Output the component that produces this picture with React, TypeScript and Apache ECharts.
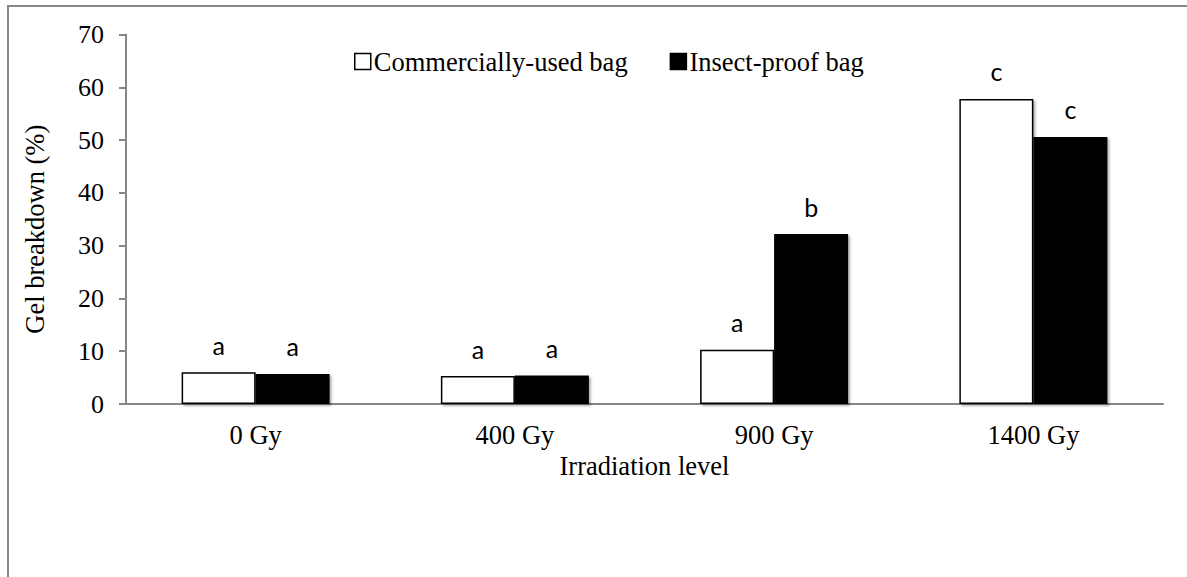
import React, { useEffect, useRef } from "react";
import * as echarts from "echarts";

const categories = ["0 Gy", "400 Gy", "900 Gy", "1400 Gy"];
const commercialValues = [6.0, 5.3, 10.3, 57.8];
const insectValues = [5.7, 5.4, 32.2, 50.6];
const commercialLetters = ["a", "a", "a", "c"];
const insectLetters = ["a", "a", "b", "c"];
const seriesNames = ["Commercially-used bag", "Insect-proof bag"];
const yTicks = { min: 0, max: 70, interval: 10 };

const SERIF = "'Liberation Serif', 'Times New Roman', serif";
const SANS = "Lato, 'Open Sans', sans-serif";
const AXIS_GRAY = "#868686";
const FS = 26.5;

export default function App() {
  const ref = useRef<HTMLDivElement>(null);
  useEffect(() => {
    document.body.style.margin = "0";
    if (!ref.current) return;
    const chart = echarts.init(ref.current, null, { renderer: "svg" });
    const mkLabel = (letters: string[]) => ({
      show: true,
      position: "top",
      distance: 15,
      fontFamily: SANS,
      fontSize: 25,
      color: "#000",
      formatter: (p: any) => letters[p.dataIndex],
    });
    const shadow = {
      shadowColor: "rgba(0,0,0,0.3)",
      shadowBlur: 2,
      shadowOffsetX: 2,
      shadowOffsetY: 2,
    };
    chart.setOption({
      animation: false,
      backgroundColor: "#fff",
      graphic: [
        {
          type: "rect",
          shape: { x: 8, y: 6, width: 1400, height: 800 },
          style: { fill: "none", stroke: "#878787", lineWidth: 2 },
          silent: true,
        },
      ],
      legend: {
        left: 349,
        top: 43,
        itemWidth: 16,
        itemHeight: 16,
        itemGap: 42,
        textStyle: { fontFamily: SERIF, fontSize: FS, color: "#000", padding: [0, 0, 0, -2] },
        data: [
          { name: seriesNames[0], icon: "rect", itemStyle: { color: "#fff", borderColor: "#000", borderWidth: 1.5 } },
          { name: seriesNames[1], icon: "rect", itemStyle: { color: "#000", borderColor: "#000", borderWidth: 1.5 } },
        ],
      },
      grid: { left: 126, right: 24, top: 34.5, bottom: 173, containLabel: false },
      xAxis: {
        type: "category",
        data: categories,
        name: "Irradiation level",
        nameLocation: "middle",
        nameGap: 40,
        nameTextStyle: { fontFamily: SERIF, fontSize: FS, color: "#000" },
        axisLine: { lineStyle: { color: AXIS_GRAY, width: 2 } },
        axisTick: { show: false },
        axisLabel: { fontFamily: SERIF, fontSize: FS, color: "#000", margin: 17 },
      },
      yAxis: {
        type: "value",
        min: yTicks.min,
        max: yTicks.max,
        interval: yTicks.interval,
        name: "Gel breakdown (%)",
        nameLocation: "middle",
        nameGap: 78,
        nameRotate: 90,
        nameTextStyle: { fontFamily: SERIF, fontSize: FS, color: "#000", padding: [0, 20, 0, 0] },
        axisLine: { show: true, lineStyle: { color: AXIS_GRAY, width: 2 } },
        axisTick: { show: true, length: 7, lineStyle: { color: AXIS_GRAY, width: 2 } },
        splitLine: { show: false },
        axisLabel: { fontFamily: SERIF, fontSize: 26, color: "#000", margin: 22 },
      },
      series: [
        {
          name: seriesNames[0],
          type: "bar",
          data: commercialValues,
          barWidth: 74,
          barGap: "0%",
          itemStyle: { color: "#fff", borderColor: "#000", borderWidth: 1.5, ...shadow },
          label: mkLabel(commercialLetters),
        },
        {
          name: seriesNames[1],
          type: "bar",
          data: insectValues,
          barWidth: 74,
          barGap: "0%",
          itemStyle: { color: "#000", borderColor: "#000", borderWidth: 1.5, ...shadow },
          label: mkLabel(insectLetters),
        },
      ],
    });
    return () => chart.dispose();
  }, []);
  return <div ref={ref} style={{ width: 1187, height: 577 }} />;
}
